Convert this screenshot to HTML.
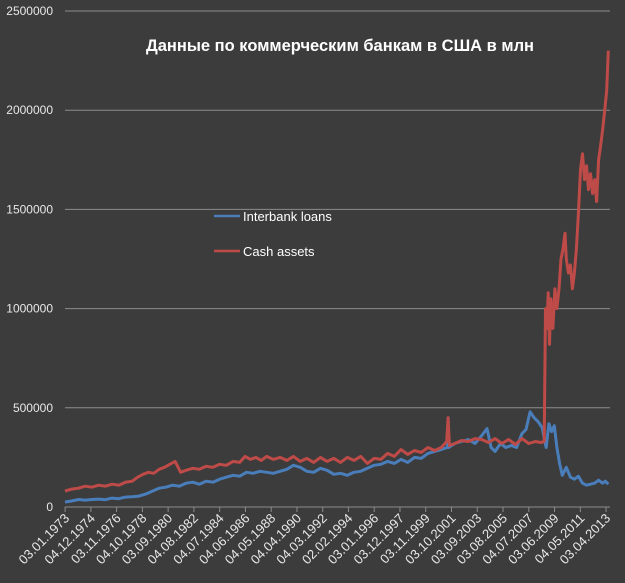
<!DOCTYPE html>
<html><head><meta charset="utf-8"><style>
html,body{margin:0;padding:0;background:#3c3c3c;}
svg{display:block;font-family:"Liberation Sans","DejaVu Sans",sans-serif;}
</style></head><body>
<svg id="chart" width="625" height="583" viewBox="0 0 625 583" xmlns="http://www.w3.org/2000/svg">
<rect x="0" y="0" width="625" height="583" fill="#3c3c3c"/>
<g id="grid"></g>
<g id="series"></g>
<g id="axes"></g>
<text x="340" y="51" text-anchor="middle" fill="#ffffff" font-size="16.5" font-weight="bold">Данные по коммерческим банкам в США  в млн</text>
<g>
<line x1="214" y1="216" x2="240" y2="216" stroke="#4a7ebb" stroke-width="2.5"/>
<text x="243" y="221" fill="#ffffff" font-size="13">Interbank loans</text>
<line x1="214" y1="251" x2="240" y2="251" stroke="#be4b48" stroke-width="2.5"/>
<text x="243" y="256" fill="#ffffff" font-size="13">Cash assets</text>
</g>
</svg>
<script>
const yTicks=[0,500000,1000000,1500000,2000000,2500000];
const xTickLabels=["03.01.1973","04.12.1974","03.11.1976","04.10.1978","03.09.1980","04.08.1982","04.07.1984","04.06.1986","04.05.1988","04.04.1990","04.03.1992","02.02.1994","03.01.1996","03.12.1997","03.11.1999","03.10.2001","03.09.2003","03.08.2005","04.07.2007","03.06.2009","04.05.2011","03.04.2013"];
const cashYears=[1973,1973.5,1974,1974.5,1975,1975.5,1976,1976.5,1977,1977.5,1978,1978.4,1978.8,1979.2,1979.6,1980,1980.4,1980.8,1981.2,1981.6,1982,1982.5,1983,1983.5,1984,1984.5,1985,1985.5,1986,1986.4,1986.8,1987.2,1987.6,1988,1988.5,1989,1989.5,1990,1990.5,1991,1991.5,1992,1992.5,1993,1993.5,1994,1994.5,1995,1995.5,1996,1996.5,1997,1997.5,1998,1998.5,1999,1999.5,2000,2000.5,2001,2001.4,2001.5,2001.6,2002,2002.5,2003,2003.5,2004,2004.5,2005,2005.5,2006,2006.5,2007,2007.5,2008,2008.4,2008.65,2008.75,2008.85,2008.95,2009.05,2009.15,2009.3,2009.45,2009.6,2009.75,2009.9,2010.05,2010.2,2010.3,2010.45,2010.6,2010.75,2010.9,2011.05,2011.2,2011.35,2011.5,2011.65,2011.8,2011.95,2012.1,2012.25,2012.4,2012.55,2012.7,2012.85,2013,2013.15,2013.3,2013.42];
const cashValues=[80000,90000,95000,105000,100000,110000,105000,115000,110000,125000,130000,150000,165000,175000,170000,190000,200000,215000,230000,175000,185000,195000,190000,205000,200000,215000,210000,230000,225000,255000,240000,250000,235000,255000,240000,250000,235000,255000,230000,245000,225000,250000,230000,245000,225000,250000,235000,255000,220000,245000,240000,270000,255000,290000,265000,285000,275000,300000,285000,300000,330000,450000,310000,320000,335000,330000,345000,340000,325000,345000,320000,340000,315000,345000,320000,330000,325000,330000,1000000,900000,1080000,820000,1050000,900000,1100000,1000000,1100000,1250000,1300000,1380000,1250000,1180000,1220000,1100000,1180000,1300000,1480000,1700000,1780000,1650000,1720000,1600000,1680000,1580000,1650000,1540000,1750000,1820000,1900000,2000000,2100000,2300000];
const loanYears=[1973,1973.5,1974,1974.5,1975,1975.5,1976,1976.5,1977,1977.5,1978,1978.5,1979,1979.5,1980,1980.5,1981,1981.5,1982,1982.5,1983,1983.5,1984,1984.5,1985,1985.5,1986,1986.5,1987,1987.5,1988,1988.5,1989,1989.5,1990,1990.5,1991,1991.5,1992,1992.5,1993,1993.5,1994,1994.5,1995,1995.5,1996,1996.5,1997,1997.5,1998,1998.5,1999,1999.5,2000,2000.5,2001,2001.45,2001.5,2001.55,2002,2002.5,2003,2003.5,2004,2004.4,2004.7,2005,2005.4,2005.8,2006.2,2006.6,2007,2007.3,2007.6,2007.9,2008.2,2008.5,2008.7,2008.8,2009,2009.2,2009.4,2009.6,2009.8,2010,2010.3,2010.6,2010.9,2011.2,2011.5,2011.8,2012.1,2012.4,2012.7,2013,2013.2,2013.42];
const loanValues=[25000,30000,38000,35000,38000,40000,37000,45000,42000,50000,52000,55000,65000,80000,95000,100000,110000,105000,120000,125000,115000,130000,125000,140000,150000,160000,155000,175000,170000,180000,175000,170000,180000,190000,210000,200000,180000,175000,195000,185000,165000,170000,160000,175000,180000,195000,210000,215000,230000,220000,240000,225000,250000,245000,270000,280000,290000,300000,450000,300000,320000,330000,340000,320000,360000,395000,300000,280000,320000,300000,310000,300000,370000,390000,480000,450000,430000,400000,330000,300000,420000,380000,410000,300000,220000,160000,200000,150000,140000,155000,120000,110000,115000,120000,135000,120000,130000,115000];
const X0=65,X1=606,YR0=1973.0,YR1=2013.25,Y0=507,Y1=11,VMAX=2500000;
function xs(yr){return X0+(yr-YR0)*(X1-X0)/(YR1-YR0);}
function ys(v){return Y0-(v/VMAX)*(Y0-Y1);}
function dateYr(s){const p=s.split('.');return +p[2]+(+p[1]-1)/12+(+p[0]-1)/365;}
const NS='http://www.w3.org/2000/svg';
const grid=document.getElementById('grid'),axes=document.getElementById('axes'),series=document.getElementById('series');
yTicks.forEach(v=>{
  const y=ys(v);
  if(v>0){const l=document.createElementNS(NS,'line');
  
  
  l.setAttribute('x1',X0);l.setAttribute('x2',610);l.setAttribute('y1',y);l.setAttribute('y2',y);
  l.setAttribute('stroke','#8c8c8c');l.setAttribute('stroke-width','1');grid.appendChild(l);}
  const t=document.createElementNS(NS,'text');
  
  
  t.setAttribute('x',53);t.setAttribute('y',y+4);t.setAttribute('text-anchor','end');
  t.setAttribute('fill','#e8e8e8');t.setAttribute('font-size','12');t.textContent=v;axes.appendChild(t);
});
const ax=document.createElementNS(NS,'line');


ax.setAttribute('x1',X0);ax.setAttribute('x2',610);ax.setAttribute('y1',Y0);ax.setAttribute('y2',Y0);
ax.setAttribute('stroke','#8c8c8c');axes.appendChild(ax);
xTickLabels.forEach(s=>{
  const x=xs(dateYr(s));
  const tk=document.createElementNS(NS,'line');
  
  
  tk.setAttribute('x1',x);tk.setAttribute('x2',x);tk.setAttribute('y1',Y0);tk.setAttribute('y2',Y0+5);
  tk.setAttribute('stroke','#8c8c8c');axes.appendChild(tk);
  const t=document.createElementNS(NS,'text');
  
  
  t.setAttribute('x',x+5);t.setAttribute('y',Y0+12);t.setAttribute('text-anchor','end');
  t.setAttribute('transform','rotate(-45 '+(x+5)+' '+(Y0+12)+')');
  t.setAttribute('fill','#e8e8e8');t.setAttribute('font-size','13');t.textContent=s;axes.appendChild(t);
});
function drawLine(xsA,vs,color,name){
  const p=document.createElementNS(NS,'polyline');
  
  
  p.setAttribute('points',xsA.map((yr,i)=>xs(yr).toFixed(1)+','+ys(vs[i]).toFixed(1)).join(' '));
  p.setAttribute('fill','none');p.setAttribute('stroke',color);p.setAttribute('stroke-width','3');
  p.setAttribute('stroke-linejoin','round');series.appendChild(p);
}
drawLine(loanYears,loanValues,'#4a7ebb','interbank-loans-line');
drawLine(cashYears,cashValues,'#be4b48','cash-assets-line');
</script>
</body></html>
